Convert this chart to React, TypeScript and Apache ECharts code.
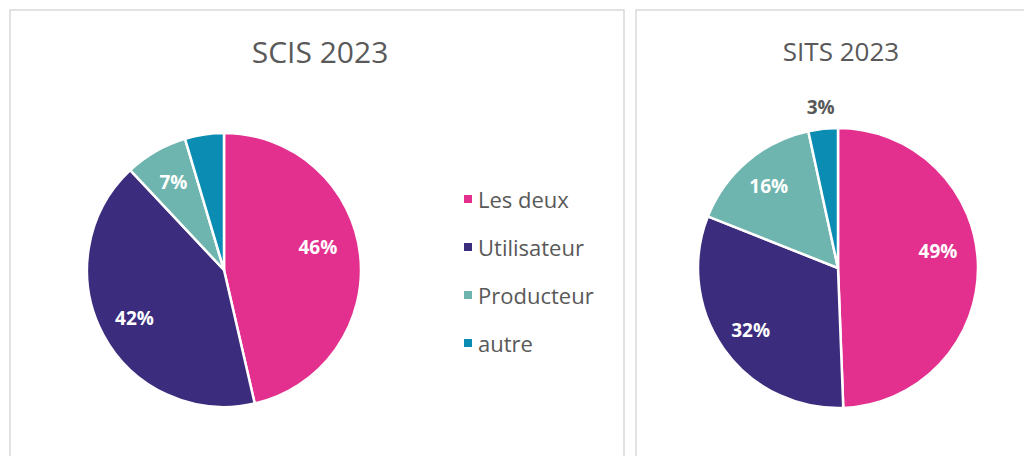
import React, { useEffect, useRef } from "react";
import * as echarts from "echarts";

const categories = ["Les deux", "Utilisateur", "Producteur", "autre"];
const colors = ["#E3308F", "#3B2C7E", "#6FB5AF", "#0B8CB3"];
const scisValues = [46.4, 41.6, 7.4, 4.6];
const sitsValues = [49.4, 31.6, 15.6, 3.4];
const titles = ["SCIS 2023", "SITS 2023"];

const FONT = "'Open Sans', sans-serif";

function mainData(values: number[]) {
  return categories.map((name, i) => ({
    name,
    value: values[i],
    itemStyle: { color: colors[i] },
  }));
}

function labelData(
  values: number[],
  hidden: number[],
  outside: number[],
  shifts: Record<number, number[]>
) {
  return categories.map((name, i) => {
    const item: any = { name, value: values[i] };
    if (hidden.includes(i)) item.label = { show: false };
    if (shifts[i]) item.label = { offset: shifts[i] };
    if (outside.includes(i)) {
      item.label = {
        show: true,
        position: "outside",
        color: "#595959",
        distanceToLabelLine: -14,
      };
      item.labelLine = { show: false, length: 22, length2: 0 };
    }
    return item;
  });
}

export default function App() {
  const ref = useRef<HTMLDivElement>(null);

  useEffect(() => {
    if (!ref.current) return;
    const chart = echarts.init(ref.current, undefined, { renderer: "svg" });

    const labelSeries = (center: number[], radius: number[], data: any[]) => ({
      type: "pie",
      center,
      radius,
      startAngle: 90,
      clockwise: true,
      silent: true,
      percentPrecision: 0,
      legendHoverLink: false,
      itemStyle: { color: "rgba(0,0,0,0)", borderWidth: 0 },
      emphasis: { disabled: true },
      label: {
        show: true,
        position: "inside",
        formatter: "{d}%",
        color: "#ffffff",
        fontFamily: FONT,
        fontWeight: "bold",
        fontSize: 19,
      },
      labelLine: { show: false },
      data,
    });

    const mainSeries = (center: number[], radius: number, data: any[]) => ({
      type: "pie",
      center,
      radius,
      startAngle: 90,
      clockwise: true,
      itemStyle: { borderColor: "#ffffff", borderWidth: 2.5 },
      label: { show: false },
      labelLine: { show: false },
      emphasis: { disabled: true },
      data,
    });

    chart.setOption({
      animation: false,
      backgroundColor: "#ffffff",
      graphic: [
        {
          type: "rect",
          shape: { x: 10, y: 10, width: 614, height: 470 },
          style: { fill: "none", stroke: "#D9D9D9", lineWidth: 1.5 },
        },
        {
          type: "rect",
          shape: { x: 636, y: 10, width: 420, height: 470 },
          style: { fill: "none", stroke: "#D9D9D9", lineWidth: 1.5 },
        },
      ],
      title: [
        {
          text: titles[0],
          left: 315,
          top: 46,
          textAlign: "center",
          textVerticalAlign: "middle",
          textStyle: {
            fontFamily: FONT,
            fontWeight: "normal",
            fontSize: 30,
            color: "#595959",
          },
        },
        {
          text: titles[1],
          left: 836,
          top: 46,
          textAlign: "center",
          textVerticalAlign: "middle",
          textStyle: {
            fontFamily: FONT,
            fontWeight: "normal",
            fontSize: 26,
            color: "#595959",
          },
        },
      ],
      legend: {
        orient: "vertical",
        left: 457,
        top: 182,
        itemWidth: 10,
        itemHeight: 10,
        itemGap: 24,
        icon: "rect",
        selectedMode: false,
        textStyle: {
          fontFamily: FONT,
          fontSize: 22,
          lineHeight: 24,
          color: "#595959",
          padding: [0, 0, 0, 0],
        },
        data: categories.map((name, i) => ({
          name,
          itemStyle: { color: colors[i] },
        })),
      },
      series: [
        mainSeries([224, 270], 137, mainData(scisValues)),
        labelSeries(
          [224, 270],
          [60, 137],
          labelData(scisValues, [3], [], { 0: [-7, -12] })
        ),
        mainSeries([838, 268], 140, mainData(sitsValues)),
        labelSeries(
          [838, 268],
          [68, 140],
          labelData(sitsValues, [], [3], { 0: [-7, -15] })
        ),
      ],
    });

    return () => chart.dispose();
  }, []);

  return (
    <div
      ref={ref}
      style={{ position: "fixed", left: 0, top: 0, width: 1024, height: 456 }}
    />
  );
}
